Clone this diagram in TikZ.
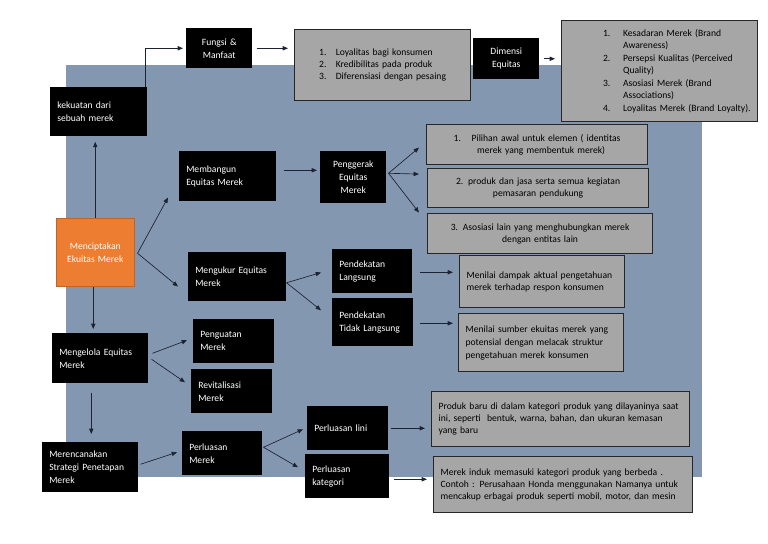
\documentclass[tikz,border=0pt]{standalone}
\usepackage{fontspec}
\setmainfont{Carlito}
\usetikzlibrary{arrows.meta}
\definecolor{bgblue}{HTML}{8497B0}
\definecolor{gfill}{HTML}{A6A6A6}
\definecolor{orng}{HTML}{ED7D31}
\definecolor{lnc}{HTML}{1C2333}
\newcommand\bx[7]{\node[#1, anchor=north west, minimum width={(#5-#3)*0.75pt}, minimum height={(#6-#4)*0.75pt}, text width={(#5-#3-14)*0.75pt}] (#2) at (#3,#4) {#7};}
\tikzset{
  blk/.style={fill=black, text=white, inner xsep=5.25pt, inner ysep=1pt, align=left, font=\fontsize{7.2}{9.75}\selectfont},
  blkc/.style={blk, align=center},
  org/.style={fill=orng, draw=orng!80!black, line width=0.4pt, text=white, inner xsep=5.25pt, inner ysep=1pt, align=center, font=\fontsize{7.2}{9.75}\selectfont},
  gbox/.style={fill=gfill, draw=black!85, line width=0.9pt, text=black, inner xsep=5.25pt, inner ysep=1pt, align=left, font=\fontsize{7.2}{9}\selectfont},
  gboxc/.style={gbox, align=center},
  arr/.style={draw=lnc, line width=0.5pt, -{Triangle[length=4pt,width=3.2pt]}}
}
\begin{document}
\begin{tikzpicture}[x=0.75pt, y=-0.75pt]
\useasboundingbox (0,0) rectangle (768,543);
\fill[bgblue] (66,65) rectangle (702,477);

% black boxes
\bx{blk}{kek}{50}{87}{147}{136}{kekuatan dari\\sebuah merek}
\bx{blkc}{fun}{186}{28}{252}{68}{Fungsi \&\\Manfaat}
\bx{blkc}{dim}{473}{38}{539}{79}{Dimensi\\Equitas}
\bx{blk}{mem}{179}{151}{276}{201}{Membangun\\Equitas Merek}
\bx{blkc}{pen}{320}{151}{386}{203}{Penggerak\\Equitas\\Merek}
\bx{blk}{ukur}{188}{252}{286}{301}{Mengukur Equitas\\Merek}
\bx{blk}{pl}{332}{249}{412}{293}{Pendekatan\\Langsung}
\bx{blk}{ptl}{332}{298}{413}{346}{Pendekatan\\Tidak Langsung}
\bx{blk}{kel}{52}{333}{148}{383}{Mengelola Equitas\\Merek}
\bx{blk}{pgu}{193}{319}{274}{363}{Penguatan\\Merek}
\bx{blk}{rev}{191}{369}{272}{413}{Revitalisasi\\Merek}
\bx{blk}{ren}{42}{442}{138}{492}{Merencanakan\\Strategi Penetapan\\Merek}
\bx{blk}{pm}{182}{431}{262}{475}{Perluasan\\Merek}
\bx{blk}{lini}{307}{406}{388}{450}{Perluasan lini}
\bx{blk}{kat}{305}{454}{389}{498}{Perluasan\\kategori}
\bx{org}{ori}{56}{218}{134}{286}{Menciptakan\\Ekuitas Merek}

% grey boxes
\bx{gboxc}{ga1}{294}{29}{470}{100}{\begin{tabular}{@{}l@{\hspace{7pt}}l@{}}1. & Loyalitas bagi konsumen\\ 2. & Kredibilitas pada produk\\ 3. & Diferensiasi dengan pesaing\end{tabular}}
\node[gbox, anchor=north west, minimum width={196*0.75pt}, minimum height={101*0.75pt}, text width={182*0.75pt}, align=right, font=\fontsize{7.2}{9.4}\selectfont] (ga2) at (561,20) {\begin{tabular}{@{}l@{\hspace{9.5pt}}l@{}}1. & Kesadaran Merek (Brand\\ & Awareness)\\ 2. & Persepsi Kualitas (Perceived\\ & Quality)\\ 3. & Asosiasi Merek (Brand\\ & Associations)\\ 4. & Loyalitas Merek (Brand Loyalty).\end{tabular}};
\bx{gboxc}{gpa}{426}{124}{647}{164}{1.\hspace{8pt}Pilihan awal untuk elemen ( identitas\\\hspace{6pt}merek yang membentuk merek)}
\bx{gboxc}{gpb}{427}{168}{648}{207}{2. produk dan jasa serta semua kegiatan\\pemasaran pendukung}
\bx{gboxc}{gpc}{427}{213}{652}{253}{3. Asosiasi lain yang menghubungkan merek\\dengan entitas lain}
\bx{gbox}{gl}{459}{255}{624}{307}{Menilai dampak aktual pengetahuan\\merek terhadap respon konsumen}
\node[gbox, anchor=north west, minimum width={165*0.75pt}, minimum height={58*0.75pt}, text width={151*0.75pt}, font=\fontsize{7.2}{9.75}\selectfont] (gtl) at (458,313) {Menilai sumber ekuitas merek yang\\potensial dengan melacak struktur\\pengetahuan merek konsumen};
\bx{gbox}{glini}{431}{391}{689}{446}{Produk baru di dalam kategori produk yang dilayaninya saat\\ini, seperti \ bentuk, warna, bahan, dan ukuran kemasan\\yang baru}
\bx{gbox}{gkat}{433}{456}{692}{512}{Merek induk memasuki kategori produk yang berbeda .\\Contoh : Perusahaan Honda menggunakan Namanya untuk\\mencakup erbagai produk seperti mobil, motor, dan mesin}

% connectors
\draw[arr] ([shift={(-2,0)}]kek.north east) |- ([shift={(-3,0)}]fun.west);
\draw[arr, shorten <=3pt, shorten >=4.5pt] (fun.east) -- (fun.east -| ga1.west);
\draw[arr, shorten <=3pt, shorten >=4.5pt] (dim.east) -- (dim.east -| ga2.west);
\draw[arr, shorten >=4pt] (ori.north) -- (ori.north |- kek.south);
\draw[arr] ([shift={(3,1)}]ori.east) -- ([shift={(-11,-4)}]mem.south west);
\draw[arr] ([shift={(3,1)}]ori.east) -- ([shift={(-10,-15)}]ukur.south west);
\draw[arr, shorten >=3pt] ([shift={(-2,0)}]ori.south) -- ([shift={(-2,0)}]ori.south |- kel.north);
\draw[arr] ([shift={(7,-6)}]mem.east) -- ([shift={(-3,-6)}]mem.east -| pen.west);
\draw[arr] ([shift={(2,-4)}]pen.east) -- ([shift={(-7,3)}]gpa.west);
\draw[arr] ([shift={(2,-4)}]pen.east) -- ([shift={(-8,-14)}]gpb.west);
\draw[arr] ([shift={(2,-4)}]pen.east) -- ([shift={(-8,-21)}]gpc.west);
\draw[arr] ([shift={(0,6)}]ukur.east) -- ([shift={(-11,-21)}]pl.south west);
\draw[arr] ([shift={(0,6)}]ukur.east) -- ([shift={(-11,-12)}]ptl.west);
\draw[arr] ([shift={(7,1)}]pl.east) -- ([shift={(-6,1)}]pl.east -| gl.west);
\draw[arr] ([shift={(6,1)}]ptl.east) -- ([shift={(-5,1)}]ptl.east -| gtl.west);
\draw[arr] ([shift={(4,-5)}]kel.east) -- ([shift={(-6,-1)}]pgu.west);
\draw[arr] ([shift={(3,1)}]kel.east) -- ([shift={(-6,-9)}]rev.west);
\draw[arr] ([shift={(-9,9)}]kel.south) -- ([shift={(1,-8)}]ren.north);
\draw[arr] ([shift={(2,-3)}]ren.east) -- ([shift={(-5,-1)}]pm.west);
\draw[arr] ([shift={(1,-6)}]pm.east) -- ([shift={(-4,1)}]lini.west);
\draw[arr] ([shift={(1,-6)}]pm.east) -- ([shift={(-7,-9)}]kat.west);
\draw[arr] ([shift={(2,0)}]lini.east) -- ([shift={(-6,0)}]lini.east -| glini.west);
\draw[arr] ([shift={(4,3)}]kat.east) -- ([shift={(-6,3)}]kat.east -| gkat.west);
\end{tikzpicture}
\end{document}
